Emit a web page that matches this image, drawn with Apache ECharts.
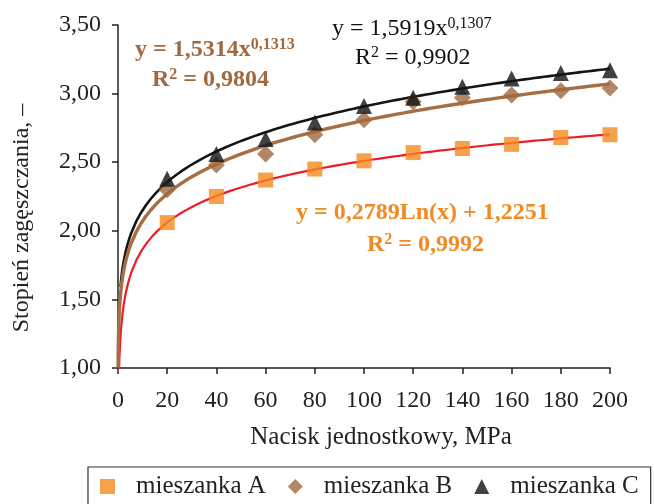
<!DOCTYPE html>
<html>
<head>
<meta charset="utf-8">
<script src="https://cdn.jsdelivr.net/npm/echarts@6/dist/echarts.min.js"></script>
<style>
  html, body { margin: 0; padding: 0; background: #fff; }
  #main { width: 654px; height: 504px; }
</style>
</head>
<body>
<div id="main"></div>
<script>
// nacisk, MPa
var pressures = [20, 40, 60, 80, 100, 120, 140, 160, 180, 200];
// stopien zageszczania
var mixA = [2.06, 2.25, 2.37, 2.45, 2.51, 2.57, 2.60, 2.63, 2.68, 2.70];
var mixB = [2.30, 2.48, 2.56, 2.70, 2.81, 2.94, 2.97, 2.99, 3.02, 3.04];
var mixC = [2.38, 2.56, 2.67, 2.79, 2.91, 2.97, 3.05, 3.11, 3.15, 3.17];
var seriesNames = ['mieszanka A', 'mieszanka B', 'mieszanka C'];
// wspolczynniki linii trendu (z rownan na wykresie)
var trendA = [0.2789, 1.2251];   // a*ln(x)+b
var trendB = [1.5314, 0.1313];   // a*x^b
var trendC = [1.5919, 0.1307];   // a*x^b
var yTicks = [1, 1.5, 2, 2.5, 3, 3.5];

function pairs(xs, ys) {
  return xs.map(function (x, i) { return [x, ys[i]]; });
}
// punkty linii trendu - gesto przy zerze
function curve(fn, x0) {
  var pts = [];
  var x = x0;
  while (x < 200) {
    pts.push([x, fn(x)]);
    x = x < 5 ? x * 1.15 : x + 2;
  }
  pts.push([200, fn(200)]);
  return pts;
}
var lnA = function (x) { return trendA[0] * Math.log(x) + trendA[1]; };
var powB = function (x) { return trendB[0] * Math.pow(x, trendB[1]); };
var powC = function (x) { return trendC[0] * Math.pow(x, trendC[1]); };

var font = '"Liberation Serif", "Times New Roman", serif';
var chart = echarts.init(document.getElementById('main'));

// rownanie z indeksem gornym
function eq(main, sup, color, bold, x, y, tail) {
  var w = bold ? 'bold' : 'normal';
  return {
    type: 'text', x: x, y: y,
    style: {
      text: '{a|' + main + '}{s|' + sup + '}' + (tail ? '{a|' + tail + '}' : ''),
      verticalAlign: 'middle',
      rich: {
        a: { fontSize: 24, fontWeight: w, fill: color, fontFamily: font, lineHeight: 26 },
        s: { fontSize: 16, fontWeight: w, fill: color, fontFamily: font, verticalAlign: 'top', lineHeight: 26 }
      }
    }
  };
}

var option = {
  animation: false,
  textStyle: { fontFamily: font },
  grid: { left: 118, right: 44, top: 25, bottom: 136 },
  xAxis: {
    type: 'value', min: 0, max: 200, interval: 20,
    axisLine: { lineStyle: { color: '#222', width: 1.5 } },
    axisTick: { show: true, length: 6, lineStyle: { color: '#222', width: 1.5 } },
    axisLabel: { color: '#222', fontSize: 24, fontFamily: font, margin: 21 },
    splitLine: { show: false }
  },
  yAxis: {
    type: 'value', min: yTicks[0], max: yTicks[yTicks.length - 1], interval: 0.5,
    axisLine: { show: true, lineStyle: { color: '#222', width: 1.5 } },
    axisTick: { show: true, length: 6, lineStyle: { color: '#222', width: 1.5 } },
    axisLabel: {
      color: '#222', fontSize: 24, fontFamily: font, margin: 17,
      formatter: function (v) { return v.toFixed(2).replace('.', ','); }
    },
    splitLine: { show: false }
  },
  legend: {
    data: [
      { name: seriesNames[0], icon: 'rect' },
      { name: seriesNames[1], icon: 'diamond' },
      { name: seriesNames[2], icon: 'triangle' }
    ],
    left: 88, top: 467, width: 600,
    itemWidth: 15, itemHeight: 15, itemGap: 22,
    padding: [7, 12, 14, 12],
    borderColor: '#333', borderWidth: 1.2, borderRadius: 0,
    textStyle: { fontSize: 25, fontFamily: font, color: '#222', padding: [0, 0, 0, 16] }
  },
  graphic: [
    eq('y = 1,5314x', '0,1313', '#A0693F', true, 135, 50),
    eq('R', '2', '#A0693F', true, 152, 80, ' = 0,9804'),
    eq('y = 1,5919x', '0,1307', '#111', false, 332, 29),
    eq('R', '2', '#111', false, 355, 58, ' = 0,9902'),
    {
      type: 'text', x: 296, y: 213,
      style: {
        text: 'y = 0,2789Ln(x) + 1,2251',
        font: 'bold 24px ' + font, fill: '#F28A22', verticalAlign: 'middle'
      }
    },
    eq('R', '2', '#F28A22', true, 367, 245, ' = 0,9992'),
    {
      type: 'text', x: 22, y: 218, rotation: Math.PI / 2,
      style: {
        text: 'Stopień zagęszczania, –',
        font: '24px ' + font, fill: '#222',
        align: 'center', verticalAlign: 'middle'
      }
    },
    {
      type: 'text', x: 381, y: 437,
      style: {
        text: 'Nacisk jednostkowy, MPa',
        font: '25px ' + font, fill: '#222',
        align: 'center', verticalAlign: 'middle'
      }
    }
  ],
  series: [
    {
      name: 'trend A', type: 'line', showSymbol: false,
      data: curve(lnA, 0.3), clip: true,
      lineStyle: { color: '#EE1C25', width: 2.2 }, z: 2
    },
    {
      name: 'trend C', type: 'line', showSymbol: false,
      data: curve(powC, 1), clip: true,
      lineStyle: { color: '#151515', width: 2.6 }, z: 2
    },
    {
      name: 'trend B', type: 'line', showSymbol: false,
      data: curve(powB, 0.04), clip: true,
      lineStyle: { color: '#A66E44', width: 3.4 }, z: 3
    },
    {
      name: seriesNames[0], type: 'scatter', symbol: 'rect', symbolSize: 15,
      data: pairs(pressures, mixA), itemStyle: { color: '#F5891F' }, z: 4
    },
    {
      name: seriesNames[1], type: 'scatter', symbol: 'diamond', symbolSize: 17,
      data: pairs(pressures, mixB), itemStyle: { color: '#A0693F' }, z: 4
    },
    {
      name: seriesNames[2], type: 'scatter', symbol: 'triangle', symbolSize: 16,
      data: pairs(pressures, mixC), itemStyle: { color: '#111' }, z: 4
    }
  ]
};
chart.setOption(option);
</script>
</body>
</html>
